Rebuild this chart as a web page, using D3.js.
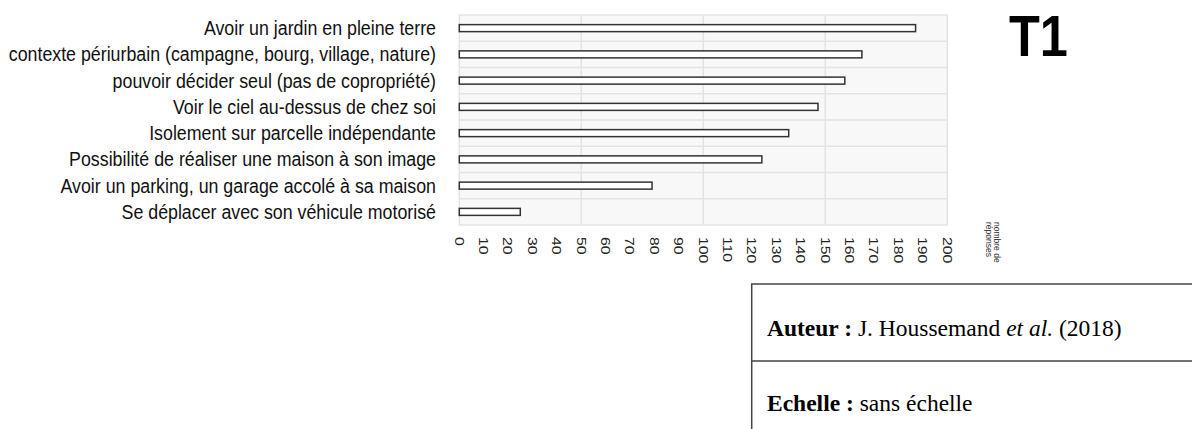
<!DOCTYPE html>
<html><head><meta charset="utf-8">
<script src="https://cdn.jsdelivr.net/npm/d3@7"></script>
<style>html,body{margin:0;padding:0;background:#fff;}svg{display:block;}</style>
</head><body>
<svg id="c" width="1192" height="429"></svg>
<script>
const categories = [
  "Avoir un jardin en pleine terre",
  "contexte périurbain (campagne, bourg, village, nature)",
  "pouvoir décider seul (pas de copropriété)",
  "Voir le ciel au-dessus de chez soi",
  "Isolement sur parcelle indépendante",
  "Possibilité de réaliser une maison à son image",
  "Avoir un parking, un garage accolé à sa maison",
  "Se déplacer avec son véhicule motorisé"
];
const values = [187, 165, 158, 147, 135, 124, 79, 25];
const tickValues = d3.range(0, 201, 10);
const gridValues = [50, 100, 150];
const axisTitle = ["nombre de", "réponses"];
const title = "T1";

const svg = d3.select("#c");
const x = d3.scaleLinear().domain([0, 200]).range([459.3, 947.3]);
const y = d3.scaleBand().domain(categories).range([15, 225]).paddingInner(0).paddingOuter(0);

// plot background
svg.append("rect").attr("x", x(0)).attr("y", 15).attr("width", x(200) - x(0)).attr("height", 210)
  .attr("fill", "#f8f8f8").attr("stroke", "#e3e3e3").attr("stroke-width", 1.5);
svg.append("g").selectAll("line").data(categories.slice(1)).join("line")
  .attr("x1", x(0)).attr("x2", x(200)).attr("y1", d => y(d)).attr("y2", d => y(d))
  .attr("stroke", "#e3e3e3").attr("stroke-width", 1.5);
svg.append("g").selectAll("line").data(gridValues).join("line")
  .attr("x1", d => x(d)).attr("x2", d => x(d)).attr("y1", 15).attr("y2", 225)
  .attr("stroke", "#e3e3e3").attr("stroke-width", 1.5);

// bars
const bh = 7;
svg.append("g").selectAll("rect").data(values).join("rect")
  .attr("x", x(0)).attr("y", (d, i) => y(categories[i]) + y.bandwidth() / 2 - bh / 2)
  .attr("width", d => x(d) - x(0)).attr("height", bh)
  .attr("fill", "#fff").attr("stroke", "#333").attr("stroke-width", 1.5);

// category labels (condensed look)
svg.append("g").selectAll("text").data(categories).join("text")
  .attr("transform", d => `translate(436,${y(d) + y.bandwidth() / 2 + 7}) scale(0.89,1)`)
  .attr("text-anchor", "end")
  .attr("font-family", "'Liberation Sans', Arial, sans-serif")
  .attr("font-size", 20).attr("fill", "#111")
  .text(d => d);

// tick labels rotated
svg.append("g").selectAll("text").data(tickValues).join("text")
  .attr("transform", d => `translate(${x(d)},237) rotate(90) scale(1.05,0.88)`)
  .attr("dy", "0.36em")
  .attr("font-family", "'Liberation Sans', Arial, sans-serif")
  .attr("font-size", 15).attr("fill", "#222")
  .text(d => d);

// axis title rotated
const at = svg.append("text").attr("transform", "translate(994,222) rotate(90)")
  .attr("font-family", "'Liberation Sans', Arial, sans-serif").attr("font-size", 8.5).attr("fill", "#333");
at.selectAll("tspan").data(axisTitle).join("tspan")
  .attr("x", 0).attr("dy", (d, i) => i === 0 ? "0" : "1em").text(d => d);

// title
svg.append("text").attr("transform", "translate(1009,56) scale(0.87,1)")
  .attr("font-family", "'Liberation Sans', Arial, sans-serif")
  .attr("font-weight", "bold").attr("font-size", 58).attr("fill", "#000").text(title);

// info box
const box = svg.append("g");
box.append("path").attr("d", "M1192,284 H751.7 V429 M751.7,361 H1192")
  .attr("fill", "none").attr("stroke", "#444").attr("stroke-width", 1.5);
const t1 = box.append("text").attr("x", 767).attr("y", 336)
  .attr("font-family", "'Liberation Serif', 'Times New Roman', serif").attr("font-size", 23.5).attr("fill", "#000");
t1.append("tspan").attr("font-weight", "bold").text("Auteur :");
t1.append("tspan").text(" J. Houssemand ");
t1.append("tspan").attr("font-style", "italic").text("et al.");
t1.append("tspan").text(" (2018)");
const t2 = box.append("text").attr("x", 767).attr("y", 411)
  .attr("font-family", "'Liberation Serif', 'Times New Roman', serif").attr("font-size", 23.5).attr("fill", "#000");
t2.append("tspan").attr("font-weight", "bold").text("Echelle :");
t2.append("tspan").text(" sans échelle");
</script>
</body></html>
